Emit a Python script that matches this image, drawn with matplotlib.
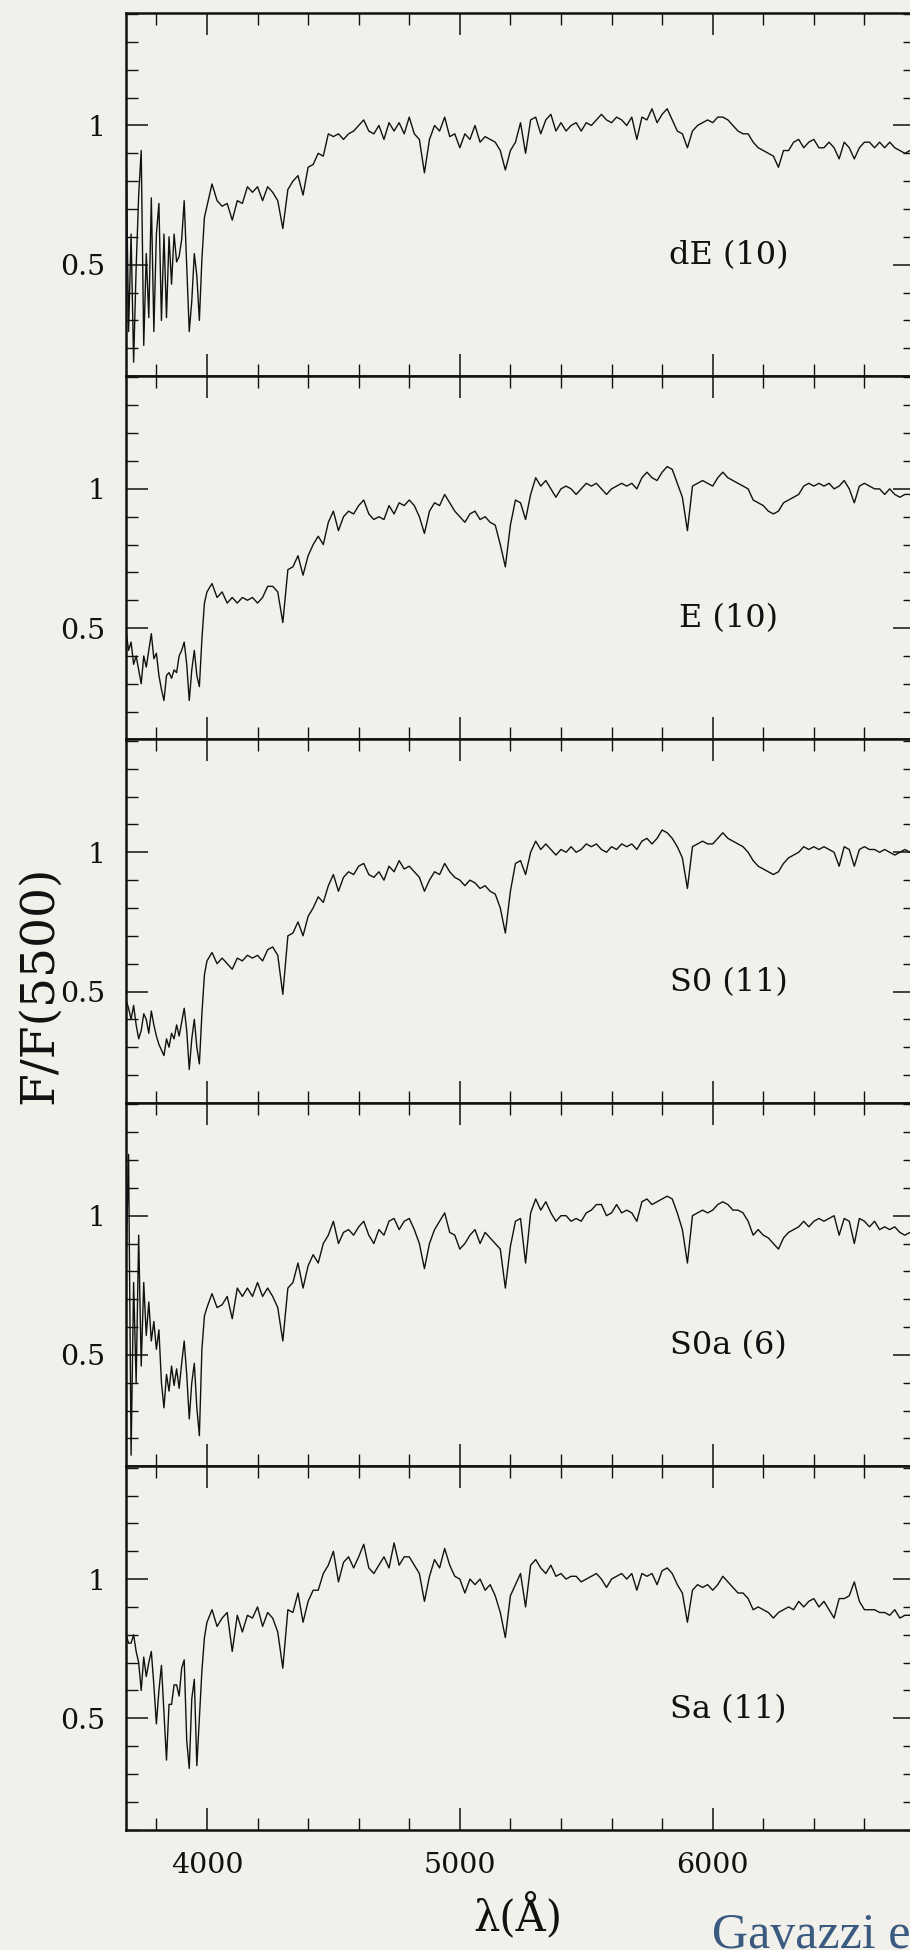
import numpy as np
import matplotlib
matplotlib.use("Agg")
import matplotlib.pyplot as plt
from matplotlib.ticker import MultipleLocator, FuncFormatter

# ----------------------------
# Stacked mean spectra, normalised at 5500 A
# ----------------------------
# sampling: 10 A steps below 4000 A, 20 A steps from 4000 to 6800 A
wave = np.concatenate([np.arange(3680, 4000, 10), np.arange(4000, 6801, 20)])

labels = ["dE (10)", "E (10)", "S0 (11)", "S0a (6)", "Sa (11)"]

flux_dE = [
    # 3680 - 3990 (10 A)
    0.95, 0.26, 0.61, 0.15, 0.49, 0.75, 0.91, 0.21, 0.54, 0.31,
    0.74, 0.26, 0.61, 0.72, 0.30, 0.61, 0.31, 0.60, 0.43, 0.61,
    0.51, 0.53, 0.59, 0.73, 0.49, 0.26, 0.37, 0.54, 0.46, 0.30,
    0.52, 0.67,
    # 4000 - 6800 (20 A)
    0.71, 0.79, 0.73, 0.71, 0.72, 0.66, 0.73, 0.72, 0.78, 0.76,
    0.78, 0.73, 0.78, 0.76, 0.73, 0.63, 0.77, 0.80, 0.82, 0.75,
    0.85, 0.86, 0.90, 0.89, 0.97, 0.96, 0.97, 0.95, 0.97, 0.98,
    1.00, 1.02, 0.98, 0.97, 1.00, 0.95, 1.01, 0.98, 1.01, 0.97,
    1.03, 0.97, 0.95, 0.83, 0.95, 1.00, 0.98, 1.03, 0.96, 0.97,
    0.92, 0.97, 0.95, 1.00, 0.94, 0.96, 0.95, 0.94, 0.91, 0.84,
    0.91, 0.94, 1.01, 0.90, 1.02, 1.03, 0.97, 1.02, 1.04, 0.98,
    1.01, 0.98, 1.00, 1.01, 0.98, 1.01, 1.00, 1.02, 1.04, 1.02,
    1.01, 1.03, 1.02, 1.00, 1.03, 0.95, 1.03, 1.02, 1.06, 1.01,
    1.04, 1.06, 1.02, 0.98, 0.97, 0.92, 0.98, 1.00, 1.01, 1.02,
    1.01, 1.03, 1.03, 1.02, 1.00, 0.98, 0.97, 0.97, 0.94, 0.92,
    0.91, 0.90, 0.89, 0.85, 0.91, 0.91, 0.94, 0.95, 0.92, 0.94,
    0.95, 0.92, 0.92, 0.94, 0.92, 0.88, 0.94, 0.92, 0.88, 0.92,
    0.94, 0.94, 0.92, 0.94, 0.92, 0.94, 0.92, 0.91, 0.90, 0.91,
    0.91,
]

flux_E = [
    0.49, 0.42, 0.45, 0.37, 0.40, 0.35, 0.30, 0.40, 0.36, 0.42,
    0.48, 0.39, 0.41, 0.33, 0.28, 0.24, 0.33, 0.34, 0.32, 0.35,
    0.34, 0.40, 0.42, 0.45, 0.37, 0.24, 0.35, 0.42, 0.33, 0.29,
    0.46, 0.59,
    0.63, 0.66, 0.61, 0.63, 0.59, 0.61, 0.59, 0.61, 0.60, 0.61,
    0.59, 0.61, 0.65, 0.65, 0.63, 0.52, 0.71, 0.72, 0.76, 0.69,
    0.76, 0.80, 0.83, 0.80, 0.88, 0.92, 0.85, 0.90, 0.92, 0.91,
    0.94, 0.96, 0.91, 0.89, 0.90, 0.89, 0.94, 0.91, 0.95, 0.94,
    0.96, 0.94, 0.90, 0.84, 0.92, 0.95, 0.94, 0.98, 0.95, 0.92,
    0.90, 0.88, 0.91, 0.92, 0.89, 0.90, 0.88, 0.87, 0.80, 0.72,
    0.87, 0.96, 0.95, 0.89, 0.98, 1.04, 1.01, 1.03, 1.00, 0.97,
    1.00, 1.01, 1.00, 0.98, 1.00, 1.02, 1.01, 1.02, 1.00, 0.98,
    1.00, 1.01, 1.02, 1.01, 1.02, 1.00, 1.04, 1.06, 1.04, 1.03,
    1.06, 1.08, 1.07, 1.02, 0.97, 0.85, 1.01, 1.02, 1.03, 1.02,
    1.01, 1.04, 1.06, 1.04, 1.03, 1.02, 1.01, 1.00, 0.96, 0.95,
    0.94, 0.92, 0.91, 0.92, 0.95, 0.96, 0.97, 0.98, 1.01, 1.02,
    1.01, 1.02, 1.01, 1.02, 1.00, 1.01, 1.03, 1.00, 0.95, 1.01,
    1.02, 1.01, 1.00, 1.00, 0.98, 1.00, 0.98, 0.97, 0.98, 0.98,
    0.99,
]

flux_S0 = [
    0.47, 0.44, 0.40, 0.45, 0.38, 0.33, 0.36, 0.42, 0.40, 0.35,
    0.43, 0.38, 0.34, 0.31, 0.29, 0.27, 0.33, 0.30, 0.35, 0.33,
    0.38, 0.34, 0.39, 0.44, 0.36, 0.22, 0.33, 0.40, 0.30, 0.24,
    0.42, 0.56,
    0.61, 0.64, 0.60, 0.62, 0.60, 0.58, 0.62, 0.61, 0.63, 0.62,
    0.63, 0.61, 0.65, 0.66, 0.63, 0.49, 0.70, 0.71, 0.75, 0.70,
    0.77, 0.80, 0.84, 0.82, 0.88, 0.92, 0.86, 0.91, 0.93, 0.92,
    0.95, 0.96, 0.92, 0.91, 0.93, 0.90, 0.95, 0.93, 0.97, 0.94,
    0.95, 0.93, 0.91, 0.86, 0.90, 0.93, 0.92, 0.96, 0.93, 0.91,
    0.90, 0.88, 0.90, 0.89, 0.87, 0.88, 0.86, 0.85, 0.80, 0.71,
    0.86, 0.96, 0.97, 0.92, 1.00, 1.04, 1.01, 1.03, 1.01, 0.99,
    1.01, 1.00, 1.02, 1.00, 1.01, 1.03, 1.02, 1.03, 1.01, 1.00,
    1.02, 1.01, 1.03, 1.02, 1.03, 1.01, 1.04, 1.05, 1.03, 1.05,
    1.08, 1.07, 1.05, 1.02, 0.98, 0.87, 1.02, 1.03, 1.04, 1.03,
    1.03, 1.05, 1.07, 1.05, 1.04, 1.03, 1.02, 1.00, 0.97, 0.95,
    0.94, 0.93, 0.92, 0.93, 0.96, 0.98, 0.99, 1.00, 1.02, 1.01,
    1.02, 1.01, 1.02, 1.01, 1.00, 0.95, 1.02, 1.01, 0.95, 1.01,
    1.02, 1.01, 1.01, 1.00, 1.01, 1.00, 0.99, 1.00, 1.01, 1.00,
    1.00,
]

flux_S0a = [
    0.82, 1.22, 0.14, 0.76, 0.40, 0.93, 0.46, 0.76, 0.57, 0.69,
    0.55, 0.62, 0.52, 0.59, 0.40, 0.31, 0.43, 0.37, 0.46, 0.39,
    0.45, 0.38, 0.47, 0.55, 0.43, 0.27, 0.40, 0.47, 0.31, 0.21,
    0.52, 0.64,
    0.67, 0.72, 0.67, 0.68, 0.71, 0.63, 0.74, 0.71, 0.74, 0.71,
    0.76, 0.71, 0.74, 0.71, 0.67, 0.55, 0.74, 0.76, 0.83, 0.74,
    0.82, 0.86, 0.83, 0.90, 0.93, 0.98, 0.90, 0.94, 0.95, 0.93,
    0.96, 0.98, 0.93, 0.90, 0.95, 0.93, 0.98, 0.99, 0.95, 0.98,
    0.99, 0.95, 0.90, 0.81, 0.90, 0.95, 0.98, 1.01, 0.94, 0.93,
    0.88, 0.90, 0.93, 0.95, 0.90, 0.94, 0.92, 0.90, 0.88, 0.74,
    0.89, 0.98, 0.99, 0.83, 1.01, 1.06, 1.02, 1.05, 1.01, 0.98,
    1.00, 1.00, 0.98, 0.99, 0.98, 1.01, 1.02, 1.04, 1.04, 1.00,
    1.01, 1.04, 1.01, 1.02, 1.01, 0.98, 1.05, 1.06, 1.04, 1.05,
    1.06, 1.07, 1.06, 1.01, 0.95, 0.83, 1.00, 1.01, 1.02, 1.01,
    1.02, 1.04, 1.05, 1.04, 1.02, 1.02, 1.01, 0.98, 0.93, 0.95,
    0.93, 0.92, 0.90, 0.88, 0.92, 0.94, 0.95, 0.96, 0.98, 0.96,
    0.98, 0.99, 0.98, 0.99, 1.00, 0.93, 0.99, 0.98, 0.90, 0.99,
    0.98, 0.96, 0.98, 0.95, 0.96, 0.95, 0.96, 0.94, 0.93, 0.94,
    0.94,
]

flux_Sa = [
    0.80, 0.77, 0.77, 0.80, 0.74, 0.70, 0.60, 0.72, 0.65, 0.70,
    0.74, 0.62, 0.48, 0.60, 0.69, 0.52, 0.35, 0.55, 0.55, 0.62,
    0.62, 0.58, 0.68, 0.71, 0.42, 0.32, 0.57, 0.64, 0.33, 0.50,
    0.67, 0.79,
    0.845, 0.89, 0.83, 0.86, 0.88, 0.74, 0.87, 0.81, 0.87, 0.86,
    0.90, 0.83, 0.88, 0.86, 0.81, 0.68, 0.89, 0.88, 0.95, 0.845,
    0.92, 0.96, 0.96, 1.02, 1.05, 1.10, 0.99, 1.06, 1.08, 1.04,
    1.08, 1.125, 1.04, 1.02, 1.05, 1.08, 1.04, 1.13, 1.05, 1.08,
    1.08, 1.05, 1.02, 0.92, 1.01, 1.07, 1.04, 1.11, 1.05, 1.01,
    1.00, 0.95, 1.00, 0.98, 1.00, 0.96, 0.98, 0.94, 0.88, 0.79,
    0.94, 0.98, 1.02, 0.90, 1.05, 1.07, 1.04, 1.02, 1.05, 1.01,
    1.02, 1.00, 1.01, 1.01, 0.99, 1.00, 1.01, 1.02, 1.00, 0.97,
    1.00, 1.01, 1.02, 1.00, 1.02, 0.96, 1.02, 1.01, 1.02, 0.98,
    1.03, 1.04, 1.02, 0.98, 0.95, 0.845, 0.96, 0.98, 0.97, 0.98,
    0.96, 0.98, 1.01, 0.99, 0.97, 0.95, 0.95, 0.93, 0.89, 0.90,
    0.89, 0.88, 0.86, 0.88, 0.89, 0.90, 0.89, 0.92, 0.90, 0.92,
    0.93, 0.90, 0.92, 0.89, 0.86, 0.93, 0.93, 0.94, 0.99, 0.92,
    0.89, 0.89, 0.89, 0.88, 0.88, 0.87, 0.89, 0.86, 0.87, 0.87,
    0.87,
]

spectra = [flux_dE, flux_E, flux_S0, flux_S0a, flux_Sa]

# ----------------------------
# Figure layout
# ----------------------------
paper = "#f2f0ea"
ink = "#111111"
plt.rcParams["font.family"] = "DejaVu Serif"

fig = plt.figure(figsize=(9.1, 19.5), dpi=100, facecolor=paper)

# panels are stacked with no gap; the right edge runs just past the page
left, width = 0.1385, 0.867
top, height = 0.99349, 0.18636

for i, (lab, flux) in enumerate(zip(labels, spectra)):
    ax = fig.add_axes([left, top - (i + 1) * height, width, height])
    ax.set_facecolor(paper)
    ax.plot(wave, flux, color=ink, lw=1.0)

    ax.set_xlim(3680, 6800)
    ax.set_ylim(0.1, 1.405)

    ax.xaxis.set_major_locator(MultipleLocator(1000))
    ax.xaxis.set_minor_locator(MultipleLocator(200))
    ax.yaxis.set_major_locator(MultipleLocator(0.5))
    ax.yaxis.set_minor_locator(MultipleLocator(0.1))
    ax.yaxis.set_major_formatter(FuncFormatter(lambda v, p: f"{v:g}"))

    ax.tick_params(which="both", direction="in", top=True, right=True,
                   labelsize=20.5, colors=ink)
    ax.tick_params(which="major", length=15.8, width=1.1)
    ax.tick_params(which="minor", length=8.6, width=1.0)
    ax.tick_params(axis="x", pad=16, labelbottom=(i == len(labels) - 1))
    ax.tick_params(axis="y", pad=15)

    for sp in ax.spines.values():
        sp.set_linewidth(1.8)
        sp.set_color(ink)

    ax.text(6063, 0.533, lab, ha="center", va="center", fontsize=23,
            color=ink)

fig.text(39 / 910, 1 - 985 / 1950, "F/F(5500)", rotation=90,
         ha="center", va="center", fontsize=34, color=ink)
fig.text(518 / 910, 1 - 1916 / 1950, "λ(Å)", ha="center", va="center",
         fontsize=30, color=ink)
fig.text(712 / 910, 1 - 1948 / 1950, "Gavazzi et al.", ha="left",
         va="baseline", fontsize=36, family="Liberation Serif",
         color="#3b5a80")

fig.savefig("out.png", dpi=100, facecolor=fig.get_facecolor())
